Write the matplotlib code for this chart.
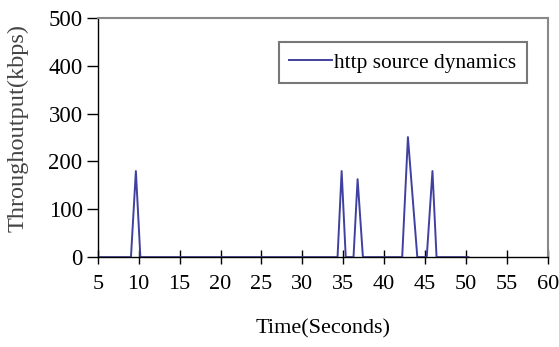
import matplotlib
matplotlib.use("Agg")
import matplotlib.pyplot as plt

# time (s) and throughput (kbps)
time_s = [5, 9.05, 9.65, 10.2, 34.3, 34.8, 35.3, 36.25, 36.75, 37.4,
          42.2, 42.9, 44.05, 45.2, 45.9, 46.4, 50.3]
throughput = [0, 0, 180, 0, 0, 180, 0, 0, 163, 0,
              0, 251, 0, 0, 180, 0, 0]

xticks = list(range(5, 61, 5))
yticks = [0, 100, 200, 300, 400, 500]

plt.rcParams['font.family'] = ['Liberation Serif', 'DejaVu Serif']

fig = plt.figure(figsize=(5.59, 3.47), dpi=100)
ax = fig.add_axes([0.175, 0.259, 0.805, 0.689])

ax.plot(time_s, throughput, color='#4040a0', lw=1.4, label='http source dynamics')

ax.set_xlim(5, 60)
ax.set_ylim(0, 500)
ax.set_xticks(xticks)
ax.set_yticks(yticks)
ax.tick_params(axis='x', direction='inout', length=10, width=1, labelsize=16, pad=8)
ax.tick_params(axis='y', direction='out', length=8, width=1, labelsize=16.5, pad=3)

for side in ['top', 'right']:
    ax.spines[side].set_color('#888888')
    ax.spines[side].set_linewidth(1.5)
for side in ['left', 'bottom']:
    ax.spines[side].set_color('black')
    ax.spines[side].set_linewidth(1)

ax.set_xlabel('Time(Seconds)', fontsize=16, labelpad=18)
ax.set_ylabel('Throughoutput(kbps)', fontsize=17.5, color='#444444')
ax.yaxis.set_label_coords(-0.155, 0.54)

leg = ax.legend(loc='upper left', bbox_to_anchor=(0.402, 0.90), borderaxespad=0,
                fontsize=15.4, frameon=True, fancybox=False, handlelength=2.0,
                handletextpad=0.1, borderpad=0.5)
leg.get_frame().set_edgecolor('#555555')
leg.get_frame().set_linewidth(1.5)

fig.savefig('out.png', dpi=100)
